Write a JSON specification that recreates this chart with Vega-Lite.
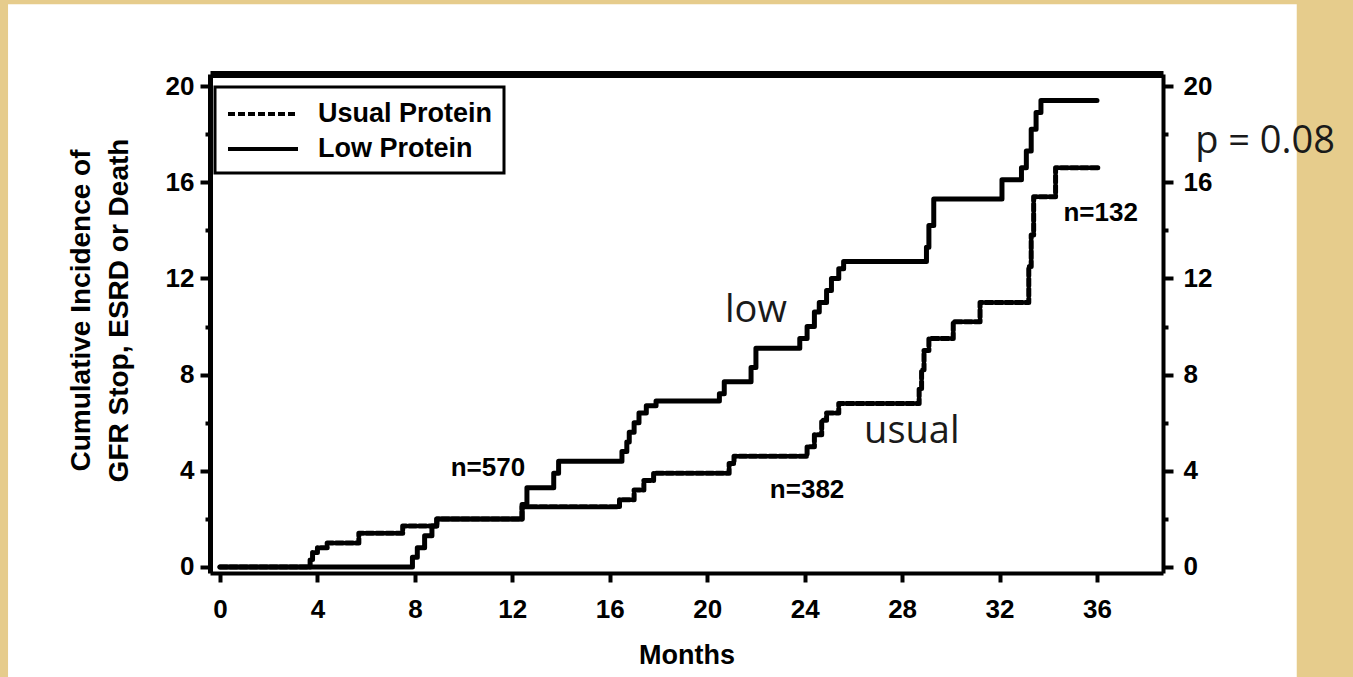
{
  "$schema": "https://vega.github.io/schema/vega-lite/v6.json",
  "width": 953,
  "height": 499,
  "autosize": "none",
  "padding": {"left": 210, "top": 74, "right": 190, "bottom": 104},
  "background": "#E6CC8C",
  "config": {
    "view": {"stroke": null},
    "axis": {
      "zindex": 2,
      "grid": false,
      "labelFont": "Liberation Sans",
      "labelFontWeight": "bold",
      "labelColor": "black",
      "titleFont": "Liberation Sans",
      "titleFontWeight": "bold",
      "titleColor": "black",
      "domainColor": "black",
      "tickColor": "black"
    }
  },
  "datasets": {
    "curves": [
      {"group": "Low Protein", "month": 0, "inc": 0},
      {"group": "Low Protein", "month": 7.9, "inc": 0.4},
      {"group": "Low Protein", "month": 8.1, "inc": 0.8},
      {"group": "Low Protein", "month": 8.4, "inc": 1.3},
      {"group": "Low Protein", "month": 8.7, "inc": 1.7},
      {"group": "Low Protein", "month": 8.9, "inc": 2.0},
      {"group": "Low Protein", "month": 12.4, "inc": 2.6},
      {"group": "Low Protein", "month": 12.6, "inc": 3.3},
      {"group": "Low Protein", "month": 13.7, "inc": 3.9},
      {"group": "Low Protein", "month": 13.9, "inc": 4.4},
      {"group": "Low Protein", "month": 16.5, "inc": 4.8},
      {"group": "Low Protein", "month": 16.7, "inc": 5.2},
      {"group": "Low Protein", "month": 16.8, "inc": 5.6},
      {"group": "Low Protein", "month": 17.0, "inc": 6.0},
      {"group": "Low Protein", "month": 17.2, "inc": 6.4},
      {"group": "Low Protein", "month": 17.5, "inc": 6.7},
      {"group": "Low Protein", "month": 17.9, "inc": 6.9},
      {"group": "Low Protein", "month": 20.5, "inc": 7.2},
      {"group": "Low Protein", "month": 20.7, "inc": 7.7},
      {"group": "Low Protein", "month": 21.8, "inc": 8.3},
      {"group": "Low Protein", "month": 22.0, "inc": 9.1},
      {"group": "Low Protein", "month": 23.8, "inc": 9.5},
      {"group": "Low Protein", "month": 24.1, "inc": 10.0},
      {"group": "Low Protein", "month": 24.4, "inc": 10.6},
      {"group": "Low Protein", "month": 24.6, "inc": 11.0},
      {"group": "Low Protein", "month": 24.9, "inc": 11.5},
      {"group": "Low Protein", "month": 25.1, "inc": 12.0},
      {"group": "Low Protein", "month": 25.4, "inc": 12.4},
      {"group": "Low Protein", "month": 25.6, "inc": 12.7},
      {"group": "Low Protein", "month": 29.0, "inc": 13.3},
      {"group": "Low Protein", "month": 29.1, "inc": 14.2},
      {"group": "Low Protein", "month": 29.3, "inc": 15.3},
      {"group": "Low Protein", "month": 32.1, "inc": 16.1},
      {"group": "Low Protein", "month": 32.9, "inc": 16.6},
      {"group": "Low Protein", "month": 33.1, "inc": 17.3},
      {"group": "Low Protein", "month": 33.3, "inc": 18.2},
      {"group": "Low Protein", "month": 33.5, "inc": 18.9},
      {"group": "Low Protein", "month": 33.7, "inc": 19.4},
      {"group": "Low Protein", "month": 36.0, "inc": 19.4},
      {"group": "Usual Protein", "month": 0, "inc": 0},
      {"group": "Usual Protein", "month": 3.7, "inc": 0.3},
      {"group": "Usual Protein", "month": 3.8, "inc": 0.6},
      {"group": "Usual Protein", "month": 4.0, "inc": 0.8},
      {"group": "Usual Protein", "month": 4.4, "inc": 1.0},
      {"group": "Usual Protein", "month": 5.7, "inc": 1.4},
      {"group": "Usual Protein", "month": 7.5, "inc": 1.7},
      {"group": "Usual Protein", "month": 8.9, "inc": 2.0},
      {"group": "Usual Protein", "month": 12.4, "inc": 2.5},
      {"group": "Usual Protein", "month": 16.4, "inc": 2.8},
      {"group": "Usual Protein", "month": 17.0, "inc": 3.2},
      {"group": "Usual Protein", "month": 17.4, "inc": 3.6},
      {"group": "Usual Protein", "month": 17.8, "inc": 3.9},
      {"group": "Usual Protein", "month": 20.9, "inc": 4.3},
      {"group": "Usual Protein", "month": 21.1, "inc": 4.6},
      {"group": "Usual Protein", "month": 24.1, "inc": 5.0},
      {"group": "Usual Protein", "month": 24.4, "inc": 5.5},
      {"group": "Usual Protein", "month": 24.7, "inc": 6.1},
      {"group": "Usual Protein", "month": 24.9, "inc": 6.4},
      {"group": "Usual Protein", "month": 25.4, "inc": 6.8},
      {"group": "Usual Protein", "month": 28.7, "inc": 7.4},
      {"group": "Usual Protein", "month": 28.8, "inc": 8.2},
      {"group": "Usual Protein", "month": 28.9, "inc": 9.0},
      {"group": "Usual Protein", "month": 29.1, "inc": 9.5},
      {"group": "Usual Protein", "month": 30.1, "inc": 10.2},
      {"group": "Usual Protein", "month": 31.2, "inc": 11.0},
      {"group": "Usual Protein", "month": 33.2, "inc": 12.5},
      {"group": "Usual Protein", "month": 33.3, "inc": 13.8},
      {"group": "Usual Protein", "month": 33.4, "inc": 15.4},
      {"group": "Usual Protein", "month": 34.3, "inc": 16.6},
      {"group": "Usual Protein", "month": 36.1, "inc": 16.6}
    ],
    "nlabels": [
      {"label": "n=570", "month": 11.0, "inc": 4.1},
      {"label": "n=382", "month": 24.1, "inc": 3.2},
      {"label": "n=132", "month": 36.15, "inc": 14.7}
    ],
    "notes": [
      {"label": "low", "month": 22.0, "inc": 10.17},
      {"label": "usual", "month": 28.4, "inc": 5.15},
      {"label": "p = 0.08", "month": 42.9, "inc": 17.2}
    ]
  },
  "layer": [
    {
      "data": {"values": [{}]},
      "mark": {"type": "rect", "fill": "white"},
      "encoding": {
        "x": {"datum": -8.7, "type": "quantitative", "scale": {"domain": [-0.41, 38.71], "nice": false, "zero": false}, "axis": null},
        "x2": {"datum": 44.2},
        "y": {"datum": 23.4, "type": "quantitative", "scale": {"domain": [-0.25, 20.5], "nice": false, "zero": false}, "axis": null},
        "y2": {"datum": -5}
      }
    },
    {
      "data": {"name": "curves"},
      "mark": {"type": "line", "interpolate": "step-after", "stroke": "black", "strokeWidth": 5, "strokeCap": "round", "strokeJoin": "round"},
      "encoding": {
        "x": {
          "field": "month", "type": "quantitative",
          "scale": {"domain": [-0.41, 38.71], "nice": false, "zero": false},
          "axis": {
            "orient": "bottom", "zindex": 2, "values": [0, 4, 8, 12, 16, 20, 24, 28, 32, 36],
            "title": "Months", "titleFontSize": 27, "titlePadding": 20,
            "labelFontSize": 26, "labelPadding": 14,
            "domainWidth": 4, "tickWidth": 4, "tickSize": 9
          }
        },
        "y": {
          "field": "inc", "type": "quantitative",
          "scale": {"domain": [-0.25, 20.5], "nice": false, "zero": false},
          "axis": {
            "orient": "left", "zindex": 2, "values": [0, 2, 4, 6, 8, 10, 12, 14, 16, 18, 20],
            "labelExpr": "datum.value % 4 === 0 ? datum.label : ''",
            "title": ["Cumulative Incidence of", "GFR Stop, ESRD or Death"],
            "titleFontSize": 28, "titleLineHeight": 38, "titlePadding": 32, "titleY": 236,
            "labelFontSize": 26, "labelPadding": 6,
            "domainWidth": 5, "tickWidth": 4,
            "tickSize": {"condition": {"test": "datum.value % 4 === 0", "value": 10}, "value": 5}
          }
        },
        "detail": {"field": "group"},
        "strokeDash": {
          "field": "group", "type": "nominal",
          "scale": {"domain": ["Usual Protein", "Low Protein"], "range": [[7, 3], [1, 0]]},
          "legend": {
            "title": null, "orient": "none", "legendX": 5, "legendY": 13,
            "symbolType": "M-1,0H4", "symbolSize": 784, "symbolStrokeWidth": 4,
            "symbolStrokeColor": "black",
            "labelFont": "Liberation Sans", "labelFontSize": 27, "labelFontWeight": "bold",
            "labelColor": "black", "labelOffset": 60, "labelLimit": 400, "rowPadding": 6, "padding": 11,
            "strokeColor": "black", "fillColor": "white", "zindex": 3,
            "encode": {
              "legend": {"update": {"strokeWidth": {"value": 3}}},
              "symbols": {"update": {"strokeCap": {"value": "butt"}}}
            }
          }
        }
      }
    },
    {
      "data": {"name": "nlabels"},
      "mark": {"type": "text", "font": "Liberation Sans", "fontWeight": "bold", "fontSize": 26, "color": "black", "align": "center", "baseline": "middle"},
      "encoding": {
        "x": {"field": "month", "type": "quantitative", "scale": {"domain": [-0.41, 38.71], "nice": false, "zero": false}, "axis": null},
        "y": {"field": "inc", "type": "quantitative", "scale": {"domain": [-0.25, 20.5], "nice": false, "zero": false}, "axis": null},
        "text": {"field": "label"}
      }
    },
    {
      "data": {"name": "notes"},
      "mark": {"type": "text", "font": "Open Sans", "fontSize": 38, "color": "#1a1a1a", "align": "center", "baseline": "alphabetic"},
      "encoding": {
        "x": {
          "field": "month", "type": "quantitative",
          "scale": {"domain": [-0.41, 38.71], "nice": false, "zero": false},
          "axis": {"orient": "top", "zindex": 2, "labels": false, "ticks": false, "title": null, "domainWidth": 7}
        },
        "y": {
          "field": "inc", "type": "quantitative",
          "scale": {"domain": [-0.25, 20.5], "nice": false, "zero": false},
          "axis": {
            "orient": "right", "zindex": 2, "values": [0, 2, 4, 6, 8, 10, 12, 14, 16, 18, 20],
            "labelExpr": "datum.value % 4 === 0 ? datum.label : ''",
            "title": null, "labelFontSize": 26, "labelPadding": 10,
            "domainWidth": 4, "tickWidth": 4,
            "tickSize": {"condition": {"test": "datum.value % 4 === 0", "value": 10}, "value": 5}
          }
        },
        "text": {"field": "label"}
      }
    }
  ],
  "resolve": {"axis": {"x": "independent", "y": "independent"}}
}
